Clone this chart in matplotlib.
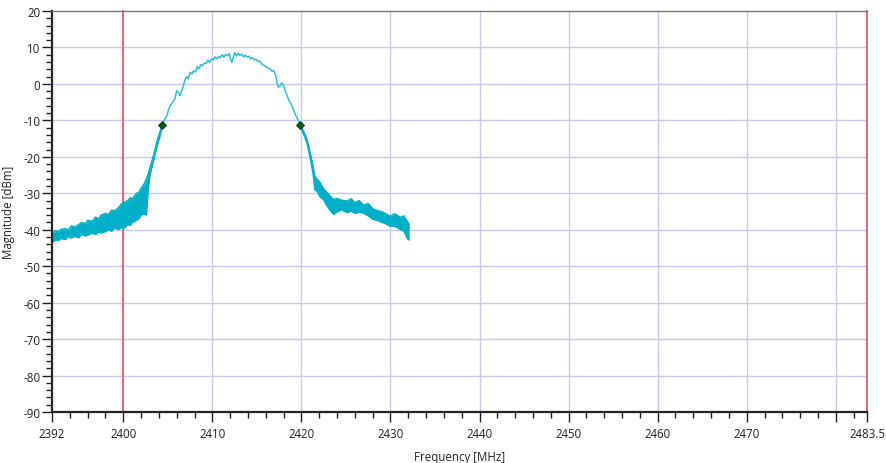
import matplotlib
matplotlib.use("Agg")
import matplotlib.pyplot as plt
from matplotlib.ticker import MultipleLocator, FixedLocator

plt.rcParams['font.family'] = ['Open Sans', 'DejaVu Sans']
plt.rcParams['axes.unicode_minus'] = False

# Noisy skirt below the band edge (low side): frequency, upper and lower envelope
low_freq = [2392.0, 2392.4, 2392.7, 2393.0, 2393.5, 2393.8, 2394.2, 2394.5, 2395.0,
            2395.3, 2395.8, 2396.0, 2396.5, 2396.9, 2397.2, 2397.5, 2398.0, 2398.3,
            2398.7, 2399.0, 2399.5, 2399.8, 2400.0, 2400.5, 2400.8, 2401.0, 2401.5,
            2401.8, 2402.0, 2402.3, 2402.6, 2402.8, 2403.0, 2403.4, 2403.75,
            2404.1, 2404.35]
low_upper = [-41.0, -40.2, -40.6, -39.9, -39.7, -40.1, -38.9, -39.3, -38.6,
             -38.0, -38.3, -37.4, -37.7, -36.5, -37.0, -36.0, -35.5, -35.9,
             -34.6, -34.8, -33.9, -32.8, -32.6, -32.0, -31.2, -31.5, -30.0,
             -29.6, -28.6, -27.6, -26.0, -24.6, -22.9, -19.5, -16.0,
             -13.3, -11.3]
low_lower = [-43.5, -42.8, -43.0, -42.4, -42.7, -41.9, -42.3, -41.8, -42.2,
             -41.3, -41.7, -41.5, -40.9, -41.3, -40.6, -40.9, -40.5, -40.0,
             -40.4, -39.6, -39.9, -39.4, -39.7, -38.6, -38.8, -38.0, -37.4,
             -36.8, -36.0, -35.6, -36.0, -29.0, -25.0, -21.0, -17.5,
             -14.5, -11.6]

# Noisy skirt above the band edge (high side)
high_freq = [2419.85, 2420.2, 2420.6, 2421.0, 2421.3, 2421.5, 2421.8, 2422.1, 2422.5,
             2422.8, 2423.2, 2423.6, 2424.0, 2424.5, 2425.1, 2425.6, 2426.0, 2426.5,
             2426.95, 2427.5, 2428.0, 2428.45, 2429.0, 2429.5, 2429.95, 2430.5,
             2431.1, 2431.5, 2431.9, 2432.1]
high_upper = [-11.3, -12.8, -15.0, -19.0, -22.5, -25.3, -26.2, -27.0, -28.8,
              -29.6, -30.6, -31.7, -31.4, -31.9, -32.1, -31.5, -32.6, -32.0,
              -33.2, -32.8, -34.2, -34.7, -35.0, -35.6, -36.3, -35.6,
              -36.6, -36.2, -37.8, -38.5]
high_lower = [-11.6, -13.5, -16.0, -20.5, -24.5, -29.0, -29.6, -31.0, -31.8,
              -33.2, -34.6, -35.8, -35.1, -34.5, -35.3, -34.9, -35.5, -35.2,
              -35.4, -36.2, -37.1, -37.4, -37.9, -38.4, -39.0, -39.1,
              -39.9, -40.4, -42.5, -42.8]

# In-band trace between the two markers
top_freq = [2404.35, 2404.6, 2404.9, 2405.1, 2405.25, 2405.5, 2405.8, 2406.0, 2406.2,
            2406.4, 2406.6, 2406.75, 2406.9, 2407.1, 2407.3, 2407.5, 2407.7, 2407.9,
            2408.1, 2408.3, 2408.5, 2408.7, 2408.9, 2409.1, 2409.3, 2409.5, 2409.7,
            2409.9, 2410.1, 2410.3, 2410.5, 2410.7, 2410.9, 2411.1, 2411.3, 2411.5,
            2411.7, 2411.9, 2412.05, 2412.2, 2412.35, 2412.5, 2412.7, 2412.9, 2413.1,
            2413.3, 2413.5, 2413.7, 2413.9, 2414.1, 2414.3, 2414.5, 2414.7, 2414.9,
            2415.1, 2415.3, 2415.5, 2415.7, 2415.9, 2416.1, 2416.3, 2416.5, 2416.7,
            2416.9, 2417.1, 2417.25, 2417.4, 2417.6, 2417.8, 2418.0, 2418.2, 2418.4,
            2418.6, 2418.75, 2418.9, 2419.1, 2419.3, 2419.5, 2419.7, 2419.85]
top_mag = [-11.3, -10.0, -8.7, -7.0, -6.0, -5.2, -4.1, -1.9, -2.4,
           -3.2, -1.6, -0.5, 0.9, 2.0, 1.4, 3.2, 2.7, 3.6,
           3.3, 4.8, 4.1, 5.3, 5.0, 5.7, 5.6, 6.5, 5.9,
           6.8, 6.6, 7.4, 6.9, 7.5, 7.2, 8.0, 7.3, 8.1,
           7.7, 8.3, 6.8, 5.9, 7.2, 8.6, 7.7, 8.4, 7.8,
           8.2, 7.4, 7.9, 7.4, 7.6, 6.9, 7.2, 6.6, 6.8,
           6.2, 6.3, 5.6, 5.2, 5.0, 4.6, 4.3, 4.1, 3.5,
           3.6, 2.6, 0.5, -0.9, -0.6, 0.3, -0.5, -2.0, -3.3,
           -4.5, -5.2, -5.8, -7.0, -8.3, -9.2, -10.4, -11.3]

# Bandwidth markers
marker_freq = [2404.35, 2419.85]
marker_mag = [-11.3, -11.3]

# Band limits
limit_freq = [2400.0, 2483.5]

x_major = [2392, 2400, 2410, 2420, 2430, 2440, 2450, 2460, 2470, 2480, 2483.5]
x_labels = ['2392', '2400', '2410', '2420', '2430', '2440', '2450', '2460', '2470', '', '2483.5']

trace_color = '#00afc8'
grid_color = '#c8c8f0'

fig = plt.figure(figsize=(8.86, 4.64), dpi=100)
ax = fig.add_axes([52 / 886, 51 / 464, 815 / 886, 401 / 464])

# grid lines
for f in range(2400, 2481, 10):
    ax.axvline(f, color=grid_color, lw=1, zorder=0)
for m in range(-80, 20, 10):
    ax.axhline(m, color=grid_color, lw=1, zorder=0)

for f in limit_freq:
    ax.axvline(f, color='#e2606c', lw=1.3, zorder=1, clip_on=False)

# noisy skirts
ax.fill_between(low_freq, low_lower, low_upper, color=trace_color, lw=0, zorder=2)
ax.plot(low_freq, low_upper, color=trace_color, lw=1, zorder=2)
ax.plot(low_freq, low_lower, color=trace_color, lw=1, zorder=2)
ax.fill_between(high_freq, high_lower, high_upper, color=trace_color, lw=0, zorder=2)
ax.plot(high_freq, high_upper, color=trace_color, lw=1, zorder=2)
ax.plot(high_freq, high_lower, color=trace_color, lw=1, zorder=2)

# in-band trace
ax.plot(top_freq, top_mag, color='#30bfd8', lw=1.1, zorder=3)

ax.plot(marker_freq, marker_mag, 'D', color='#0c5a0c', ms=4.5, mec='#063006', mew=0.6, zorder=4)

ax.set_xlim(2392, 2483.5)
ax.set_ylim(-90, 20)

ax.xaxis.set_major_locator(FixedLocator(x_major))
ax.set_xticklabels(x_labels)
ax.xaxis.set_minor_locator(MultipleLocator(2))
ax.yaxis.set_major_locator(MultipleLocator(10))
ax.yaxis.set_minor_locator(MultipleLocator(2))

ax.tick_params(which='major', length=7, width=1, color='#222222', labelsize=8.3, labelcolor='#222222')
ax.tick_params(which='minor', length=4.5, width=1, color='#222222')
ax.tick_params(axis='x', which='major', pad=4)
ax.tick_params(axis='y', which='major', pad=1.5)

ax.spines['left'].set_linewidth(1.6)
ax.spines['bottom'].set_linewidth(1.6)
ax.spines['left'].set_color('#222222')
ax.spines['bottom'].set_color('#222222')
ax.spines['top'].set_color('#777777')
ax.spines['top'].set_linewidth(1)
ax.spines['right'].set_visible(False)

ax.set_xlabel('Frequency [MHz]', fontsize=8.3, color='#222222')
ax.set_ylabel('Magnitude [dBm]', fontsize=8.3, color='#222222')
ax.xaxis.set_label_coords(0.5, -0.095)
ax.yaxis.set_label_coords(-0.046, 0.5)

fig.savefig('out.png', dpi=100)
